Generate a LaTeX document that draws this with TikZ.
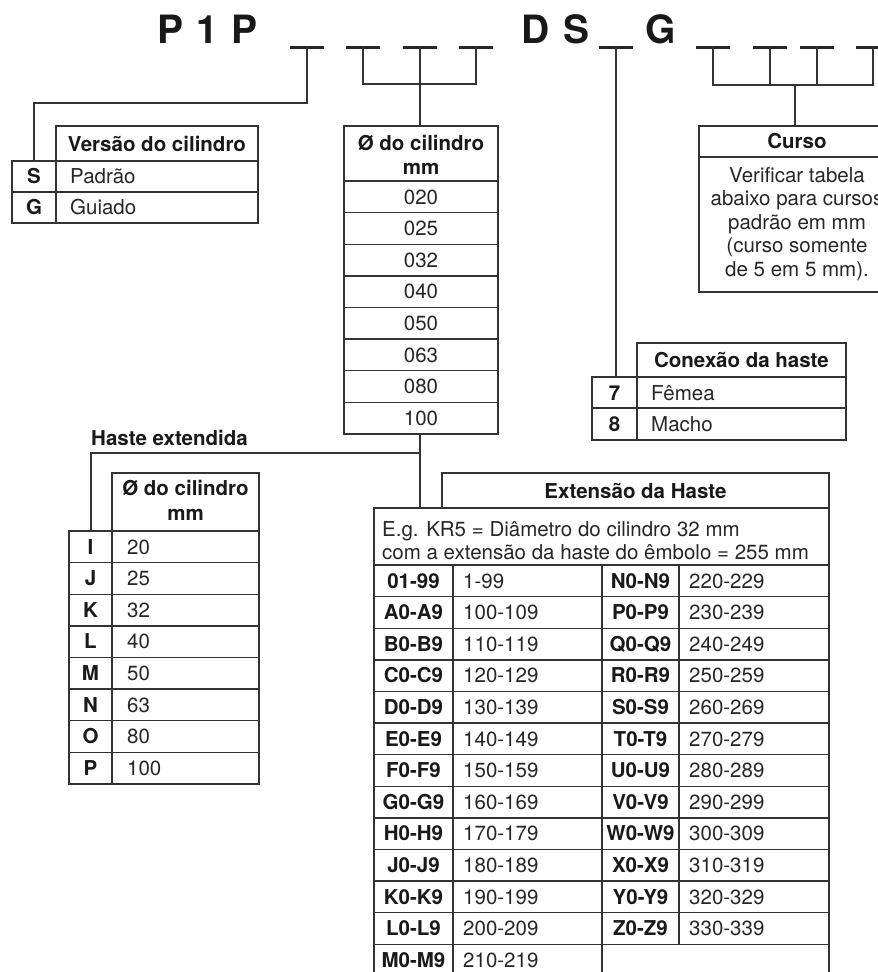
\documentclass[tikz,border=0pt]{standalone}
\usepackage{fontspec}
\setmainfont{TeX Gyre Heros}

\begin{document}
\begin{tikzpicture}[x=1pt,y=-1pt,
	ln/.style={line width=1.4pt,draw=black!80},
	bar/.style={line width=3pt,draw=black!85},
	big/.style={font=\bfseries\fontsize{39}{44}\selectfont,anchor=base west,inner sep=0pt,text=black!90},
	hd/.style={font=\bfseries\fontsize{20.5}{24}\selectfont,anchor=base,inner sep=0pt,text=black!90},
	tx/.style={font=\fontsize{20.5}{24}\selectfont,anchor=base west,inner sep=0pt,text=black!85}]
	\useasboundingbox (0,0) rectangle (878,972);
	\clip (0,0) rectangle (878,972);

	% order code
	\node[big] (p1p) at (157,43) {P\hspace{13.5pt}1\hspace{13.5pt}P};
	\node[big] (ds) at (521,43) {D\hspace{14pt}S};
	\node[big] (g) at (645,43) {G};
	\foreach \x [count=\i] in {307,363,420,476,616,713,770,817,873} % blanks
	{
		\draw[bar] (\x-17,47) -- (\x+17,47);
		\coordinate (b\i) at (\x,47);
	}

	% connection points on the tables
	\coordinate (vs) at (34,161);
	\coordinate (dt) at (420,126);
	\coordinate (db) at (420,434);
	\coordinate (jn) at (420,453);
	\coordinate (ht) at (91,531);
	\coordinate (eg) at (420,508);
	\coordinate (cx) at (616,377);
	\coordinate (cm) at (795,85);
	\coordinate (cu) at (795,126);

	\draw[ln] (b1) -- ++(0,56) -| (vs);
	\draw[ln] (b2) -- ++(0,37) -| (b4);
	\draw[ln] (b3) -- (dt);
	\draw[ln] (b5) -- (cx);
	\draw[ln] (b6) -- ++(0,38) -| (b9);
	\draw[ln] (b7) -- ++(0,38);
	\draw[ln] (b8) -- ++(0,38);
	\draw[ln] (cm) -- (cu);
	\draw[ln] (db) -- (eg);
	\draw[ln] (jn) -| (ht);

	% Versao do cilindro
	\draw[ln] (56,126) rectangle (258,161);
	\draw[ln] (12,161) rectangle (258,223);
	\draw[ln] (12,192) -- (258,192);
	\draw[ln] (56,161) -- (56,223);
	\node[hd] (vh) at (157,151) {Versão do cilindro};
	\foreach \k/\t [count=\i from 0] in {S/Padrão,G/Guiado}
	{
		\node[hd] (vk\i) at (34,{161+31*\i+22.5}) {\k};
		\node[tx] (vv\i) at (70,{161+31*\i+22.5}) {\t};
	}

	% diametro
	\draw[ln] (344,126) rectangle (498,434);
	\foreach \i in {0,...,7}
	\draw[ln] (344,{181+31.6*\i}) -- (498,{181+31.6*\i});
	\node[hd] (dh1) at (421,150) {Ø do cilindro};
	\node[hd] (dh2) at (421,174) {mm};
	\foreach \d [count=\i from 0] in {020,025,032,040,050,063,080,100}
	\node[tx,anchor=base] (d\i) at (421,{181+31.6*\i+23}) {\d};

	% Haste extendida
	\node[hd,anchor=base west] (hx) at (91,445) {Haste extendida};
	\draw[ln] (112,473) rectangle (259,531);
	\draw[ln] (69,531) rectangle (259,784);
	\draw[ln] (112,531) -- (112,784);
	\foreach \i in {1,...,7}
	\draw[ln] (69,{531+31.6*\i}) -- (259,{531+31.6*\i});
	\node[hd] (hh1) at (185.5,495) {Ø do cilindro};
	\node[hd] (hh2) at (185.5,520) {mm};
	\foreach \k/\d [count=\i from 0] in {I/20,J/25,K/32,L/40,M/50,N/63,O/80,P/100}
	{
		\node[hd] (hk\i) at (90.5,{531+31.6*\i+23}) {\k};
		\node[tx] (hv\i) at (127,{531+31.6*\i+23}) {\d};
	}

	% Extensao da Haste
	\draw[ln] (442,473) rectangle (829,508);
	\draw[ln] (374,508) rectangle (829,980);
	\draw[ln] (374,565) -- (829,565);
	\draw[ln] (453,565) -- (453,980);
	\draw[ln] (602,565) -- (602,980);
	\draw[ln] (679,565) -- (679,944.2);
	\foreach \i in {1,...,12}
	\draw[ln] (374,{565+31.6*\i}) -- (829,{565+31.6*\i});
	\node[hd] (eh) at (635.5,498) {Extensão da Haste};
	\node[tx] (ex1) at (382,536) {E.g. KR5 = Diâmetro do cilindro 32 mm};
	\node[tx] (ex2) at (382,559) {com a extensão da haste do êmbolo = 255 mm};
	\foreach \k/\v [count=\i from 0] in {01-99/1-99,A0-A9/100-109,B0-B9/110-119,C0-C9/120-129,D0-D9/130-139,E0-E9/140-149,F0-F9/150-159,G0-G9/160-169,H0-H9/170-179,J0-J9/180-189,K0-K9/190-199,L0-L9/200-209,M0-M9/210-219}
	{
		\node[hd] (ek\i) at (413.5,{565+31.6*\i+23}) {\k};
		\node[tx] (ev\i) at (463,{565+31.6*\i+23}) {\v};
	}
	\foreach \k/\v [count=\i from 0] in {N0-N9/220-229,P0-P9/230-239,Q0-Q9/240-249,R0-R9/250-259,S0-S9/260-269,T0-T9/270-279,U0-U9/280-289,V0-V9/290-299,W0-W9/300-309,X0-X9/310-319,Y0-Y9/320-329,Z0-Z9/330-339}
	{
		\node[hd] (fk\i) at (640.5,{565+31.6*\i+23}) {\k};
		\node[tx] (fv\i) at (689,{565+31.6*\i+23}) {\v};
	}

	% Conexao da haste
	\draw[ln] (637,343) rectangle (846,377);
	\draw[ln] (592,377) rectangle (846,440);
	\draw[ln] (592,408) -- (846,408);
	\draw[ln] (637,377) -- (637,440);
	\node[hd] (ch) at (741.5,367) {Conexão da haste};
	\foreach \k/\t [count=\i from 0] in {7/Fêmea,8/Macho}
	{
		\node[hd] (ck\i) at (614.5,{377+31.5*\i+23}) {\k};
		\node[tx] (cv\i) at (651,{377+31.5*\i+23}) {\t};
	}

	% Curso
	\draw[ln] (699,126) rectangle (895,292);
	\draw[ln] (699,157) -- (895,157);
	\node[hd] (kh) at (797,148) {Curso};
	\foreach \t [count=\i from 0] in {{Verificar tabela},{abaixo para cursos},{padrão em mm},{(curso somente},{de 5 em 5 mm).}}
	\node[tx,anchor=base] (kt\i) at (797,{182+23.5*\i}) {\t};
\end{tikzpicture}
\end{document}
